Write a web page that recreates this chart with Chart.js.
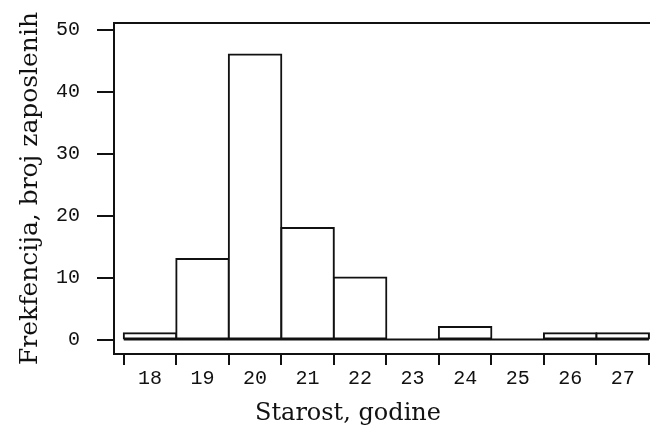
<!DOCTYPE html>
<html>
<head>
<meta charset="utf-8">
<script src="https://cdn.jsdelivr.net/npm/chart.js@4/dist/chart.umd.min.js"></script>
<style>
html,body{margin:0;padding:0;background:#fff;}
#wrap{width:650px;height:428px;position:relative;}
</style>
</head>
<body>
<div id="wrap"><canvas id="c" width="650" height="428"></canvas></div>
<script>
const ages = [18, 19, 20, 21, 22, 23, 24, 25, 26, 27];
const counts = [1, 13, 46, 18, 10, 0, 2, 0, 1, 1];
const yTicks = [0, 10, 20, 30, 40, 50];
const xTicks = [18, 19, 20, 21, 22, 23, 24, 25, 26, 27];
const xTitle = 'Starost, godine';
const yTitle = 'Frekfencija, broj zaposlenih';

const INK = '#111';
const FONT = "'Liberation Mono', 'DejaVu Sans Mono', monospace";
const TFONT = "'DejaVu Serif', 'Liberation Serif', serif";

function fitText(ctx, text, width, vstretch) {
  const w = ctx.measureText(text).width;
  ctx.scale(width / w, vstretch);
  ctx.fillText(text, 0, 0);
}

const extras = {
  id: 'extras',
  afterDatasetsDraw(chart) {
    const {ctx, chartArea, scales} = chart;
    const x = scales.x, y = scales.y;
    ctx.save();
    ctx.strokeStyle = INK;
    ctx.lineWidth = 2;
    const y0 = y.getPixelForValue(0);
    ctx.beginPath();
    ctx.moveTo(x.getPixelForValue(ages[0] - 0.5), y0);
    ctx.lineTo(x.getPixelForValue(ages[ages.length - 1] + 0.5), y0);
    ctx.stroke();
    ctx.beginPath();
    ctx.moveTo(chartArea.left - 1, chartArea.top);
    ctx.lineTo(chartArea.right, chartArea.top);
    ctx.stroke();
    ctx.restore();
  },
  afterDraw(chart) {
    const {ctx} = chart;
    ctx.save();
    ctx.fillStyle = INK;
    ctx.font = "19px " + TFONT;
    ctx.textAlign = 'left';
    ctx.textBaseline = 'alphabetic';
    ctx.save();
    ctx.translate(255, 420);
    fitText(ctx, xTitle, 186, 1.28);
    ctx.restore();
    ctx.save();
    ctx.translate(37, 365);
    ctx.rotate(-Math.PI / 2);
    fitText(ctx, yTitle, 353, 1.3);
    ctx.restore();
    ctx.restore();
  }
};

new Chart(document.getElementById('c'), {
  type: 'bar',
  data: {
    datasets: [{
      data: ages.map((a, i) => ({x: a, y: counts[i]})),
      backgroundColor: '#fff',
      borderColor: INK,
      borderWidth: 2,
      borderSkipped: false,
      inflateAmount: 1,
      barPercentage: 1,
      categoryPercentage: 1
    }]
  },
  plugins: [extras],
  options: {
    responsive: false,
    animation: false,
    devicePixelRatio: 1,
    layout: {padding: {top: 23, left: 0, right: 0, bottom: 0}},
    plugins: {legend: {display: false}, tooltip: {enabled: false}, title: {display: false}},
    scales: {
      x: {
        type: 'linear',
        min: 17.314,
        max: 27.52,
        offset: false,
        afterBuildTicks: s => { s.ticks = xTicks.map(v => ({value: v})); },
        afterFit: s => { s.height = 74; s.paddingLeft = 0; s.paddingRight = 0; },
        grid: {drawOnChartArea: false, drawTicks: true, tickLength: 11, color: INK, lineWidth: 2},
        border: {display: true, color: INK, width: 2},
        ticks: {color: INK, font: {family: FONT, size: 20}, padding: 2, maxRotation: 0, autoSkip: false}
      },
      y: {
        type: 'linear',
        min: -2.34,
        max: 51.1,
        afterBuildTicks: s => { s.ticks = yTicks.map(v => ({value: v})); },
        afterFit: s => { s.width = 114; s.paddingTop = 0; s.paddingBottom = 0; },
        grid: {drawOnChartArea: false, drawTicks: true, tickLength: 17, color: INK, lineWidth: 2},
        border: {display: true, color: INK, width: 2},
        ticks: {color: INK, font: {family: FONT, size: 20}, padding: 17}
      }
    }
  }
});
</script>
</body>
</html>
